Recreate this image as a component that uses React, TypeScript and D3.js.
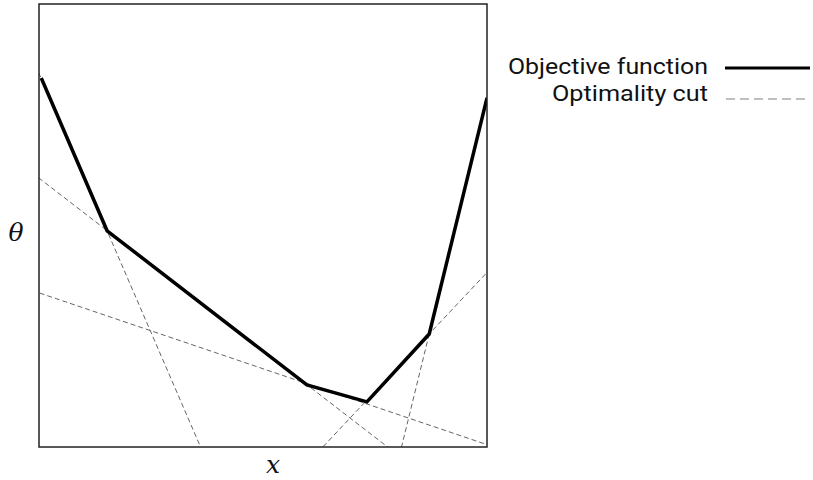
import React from "react";
import * as d3 from "d3";

// Objective function vertices (x, theta) in data units
const objX = [0.05, 1.52, 5.98, 7.32, 8.71, 10.0];
const objY = [8.33, 4.88, 1.4, 1.02, 2.55, 7.88];

// Optimality cuts: theta = intercept + slope * x
const cutIntercepts = [6.07, 8.435, 3.48, -6.81, -33.42];
const cutSlopes = [-0.78, -2.339, -0.3427, 1.075, 4.13];

const legendLabels = ["Objective function", "Optimality cut"];

const W = 813;
const H = 480;
const plot = { left: 39, right: 487, top: 4, bottom: 447 };

export default function App() {
  const x = d3.scaleLinear().domain([0, 10]).range([plot.left, plot.right]);
  const y = d3.scaleLinear().domain([0, 10]).range([plot.bottom, plot.top]);

  const objData = objX.map((v, i) => [v, objY[i]] as [number, number]);
  const line = d3
    .line<[number, number]>()
    .x((d) => x(d[0]))
    .y((d) => y(d[1]));

  const cuts = cutIntercepts.map((a, i) => {
    const b = cutSlopes[i];
    const pts: [number, number][] = [
      [-1, a + b * -1],
      [11, a + b * 11],
    ];
    return line(pts) as string;
  });

  return (
    <svg
      width={W}
      height={H}
      style={{ position: "absolute", left: 0, top: 0, background: "#fff" }}
    >
      <defs>
        <clipPath id="plotclip">
          <rect
            x={plot.left}
            y={plot.top}
            width={plot.right - plot.left}
            height={plot.bottom - plot.top}
          />
        </clipPath>
      </defs>
      <g clipPath="url(#plotclip)">
        {cuts.map((d, i) => (
          <path
            key={i}
            d={d}
            fill="none"
            stroke="#666"
            strokeWidth={1}
            strokeDasharray="5,3"
          />
        ))}
        <path
          d={line(objData) as string}
          fill="none"
          stroke="#000"
          strokeWidth={3.5}
          strokeLinejoin="miter"
        />
      </g>
      <rect
        x={plot.left}
        y={plot.top}
        width={plot.right - plot.left}
        height={plot.bottom - plot.top}
        fill="none"
        stroke="#222"
        strokeWidth={1.5}
      />
      <text
        x={16}
        y={241}
        textAnchor="middle"
        fontFamily="'DejaVu Serif', 'Liberation Serif', serif"
        fontStyle="italic"
        fontSize={25}
        fill="#111"
      >
        θ
      </text>
      <text
        x={273}
        y={473}
        textAnchor="middle"
        fontFamily="'DejaVu Serif', 'Liberation Serif', serif"
        fontStyle="italic"
        fontSize={25}
        fill="#111"
      >
        x
      </text>
      <text
        x={708}
        y={74}
        textAnchor="end"
        fontFamily="Roboto, 'Noto Sans', sans-serif"
        fontSize={22}
        textLength={200}
        lengthAdjust="spacingAndGlyphs"
        fill="#111"
      >
        {legendLabels[0]}
      </text>
      <text
        x={708}
        y={101}
        textAnchor="end"
        fontFamily="Roboto, 'Noto Sans', sans-serif"
        fontSize={22}
        textLength={156}
        lengthAdjust="spacingAndGlyphs"
        fill="#111"
      >
        {legendLabels[1]}
      </text>
      <line x1={725} x2={810} y1={68} y2={68} stroke="#000" strokeWidth={3} />
      <line
        x1={726}
        x2={810}
        y1={99}
        y2={99}
        stroke="#aaa"
        strokeWidth={1.5}
        strokeDasharray="9,5"
      />
    </svg>
  );
}
